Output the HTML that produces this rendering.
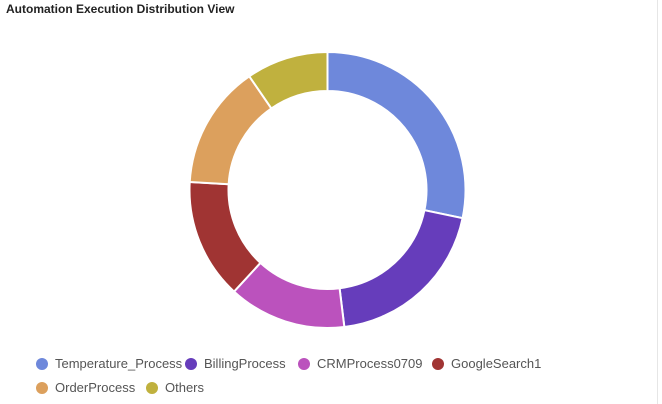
<!DOCTYPE html>
<html><head><meta charset="utf-8"><style>
body{margin:0;width:662px;height:404px;background:#fff;font-family:"Liberation Sans",sans-serif;overflow:hidden;position:relative}
.title{position:absolute;left:6px;top:2px;font-size:12px;font-weight:bold;color:#222}
.leg{position:absolute;display:flex;align-items:center;font-size:13px;color:#555}
.dot{width:12px;height:12px;border-radius:50%;margin-right:7px}
.edge{position:absolute;left:657px;top:0;width:1px;height:404px;background:#e6e6e6}
</style></head><body>
<div class="title">Automation Execution Distribution View</div>
<div class="edge"></div>
<svg id="chart" width="662" height="404" style="position:absolute;left:0;top:0"></svg>
<div id="legend"></div>
<script>
const categories=["Temperature_Process","BillingProcess","CRMProcess0709","GoogleSearch1","OrderProcess","Others"];
const values=[28.3,19.8,13.8,14.1,14.5,9.6];
const colors=["#6e88db","#663dbb","#bb52bd","#a03433","#dca05d","#c0b13e"];
const cx=327.5,cy=190,R=138,r=99;
const svg=document.getElementById('chart');
const total=values.reduce((a,b)=>a+b,0);
function pt(a,rad){return [cx+rad*Math.sin(a),cy-rad*Math.cos(a)];}
let a0=0;
values.forEach((v,i)=>{
  const a1=a0+v/total*2*Math.PI;
  const [x1,y1]=pt(a0,R),[x2,y2]=pt(a1,R),[x3,y3]=pt(a1,r),[x4,y4]=pt(a0,r);
  const lg=(a1-a0)>Math.PI?1:0;
  const p=document.createElementNS('http://www.w3.org/2000/svg','path');
  p.setAttribute('d',`M${x1},${y1}A${R},${R} 0 ${lg} 1 ${x2},${y2}L${x3},${y3}A${r},${r} 0 ${lg} 0 ${x4},${y4}Z`);
  p.setAttribute('fill',colors[i]);p.setAttribute('stroke','#fff');p.setAttribute('stroke-width','2');
  
  
  svg.appendChild(p);
  a0=a1;
});
const legPos=[[36,356],[185,356],[298,356],[432,356],[36,380],[146,380]];
const lg=document.getElementById('legend');
categories.forEach((c,i)=>{
  const d=document.createElement('div');d.className='leg';
  d.style.left=legPos[i][0]+'px';d.style.top=legPos[i][1]+'px';
  
  
  d.innerHTML=`<span class="dot" style="background:${colors[i]}"></span>${c}`;
  lg.appendChild(d);
});
</script>
</body></html>
